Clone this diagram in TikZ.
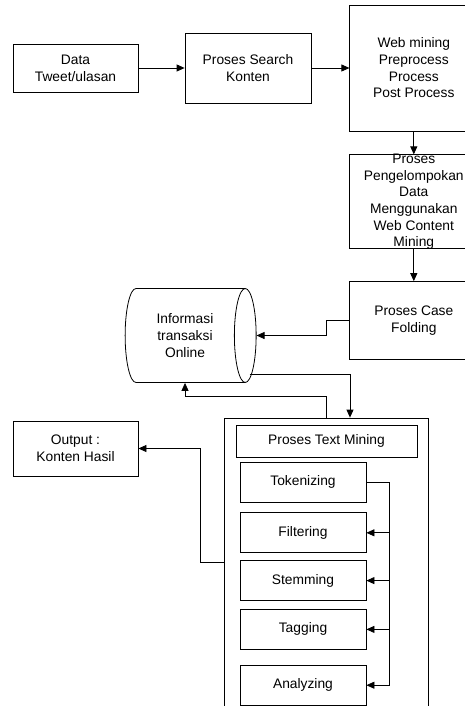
\documentclass[tikz,border=0pt]{standalone}
\usepackage{fontspec}
\setmainfont{Liberation Sans}
\usetikzlibrary{arrows.meta}
\usetikzlibrary{positioning}
\usetikzlibrary{shapes.geometric}

\tikzset{
  flowbox/.style={draw, fill=white, line width=0.8pt, align=center, inner sep=2pt,
    font=\fontsize{13.8}{16.7}\selectfont},
  flowline/.style={line width=0.8pt, -{Triangle[length=8pt,width=7pt]}},
}

\begin{document}
\begin{tikzpicture}[x=1pt,y=-1pt]
  \useasboundingbox[fill=white] (0,0) rectangle (465,706);

  % top row
  \node [flowbox, minimum width=125pt, minimum height=48pt] (data) at (75.5,68) {Data\\Tweet/ulasan};
  \node [flowbox, minimum width=126pt, minimum height=70pt] (search) at (248,68) {Proses Search\\Konten};
  \node [flowbox, minimum width=128pt, minimum height=126pt] (web) [right = 38pt of search] {Web mining\\Preprocess\\Process\\Post Process};

  % right column
  \node [flowbox, minimum width=128pt, minimum height=94pt, inner ysep=-3pt] (group) [below = 23pt of web]
        {Proses\\Pengelompokan\\Data\\Menggunakan\\Web Content\\Mining};
  \node [flowbox, minimum width=128pt, minimum height=78pt] (fold) [below = 32pt of group] {Proses Case\\Folding};

  \node [flowbox, cylinder, shape border rotate=0, aspect=0.5, minimum height=131pt, minimum width=94pt,
         inner sep=0pt] (db) at (185,335.5) {Informasi\\transaksi\\Online};

  % text mining block
  \node [flowbox, minimum width=204pt, minimum height=307pt] (tmgroup) at (326,571.5) {};
  \node [flowbox, minimum width=181pt, minimum height=32pt] (title) at (326.5,441) {Proses Text Mining};
  \node [flowbox, minimum width=126pt, minimum height=40pt] (tok) at (303,482) {Tokenizing};
  \node [flowbox, minimum width=126pt, minimum height=40pt] (filt) [below = 10pt of tok] {Filtering};
  \node [flowbox, minimum width=126pt, minimum height=40pt] (stem) [below = 7pt of filt] {Stemming};
  \node [flowbox, minimum width=126pt, minimum height=40pt] (tag) [below = 8pt of stem] {Tagging};
  \node [flowbox, minimum width=126pt, minimum height=40pt] (ana) [below = 15pt of tag] {Analyzing};

  \node [flowbox, minimum width=125pt, minimum height=55pt] (out) at (75.5,448.5) {Output :\\Konten Hasil};

  \path [flowline]
    (data) edge (search)
    (search) edge (web)
    (web) edge (group)
    (group) edge (fold)
    ;
  \draw [flowline] (fold.west) -- ++(-23,0) |- (db.east);
  \draw [flowline] ([xshift=-7pt,yshift=-38.5pt]db.east) -| ([xshift=24pt]tmgroup.north);
  \draw [flowline] (tmgroup.north) -- ++(0,-21) -| (db.south);
  \draw [flowline] ([yshift=9.5pt]tmgroup.west) -- ++(-23,0) |- (out.east);
  \draw [flowline] (tok.east) -- ++(23,0) |- (ana.east);
  \foreach \n in {filt,stem,tag}
    \draw [flowline] ([xshift=23pt]\n.east) -- (\n.east);
\end{tikzpicture}
\end{document}
